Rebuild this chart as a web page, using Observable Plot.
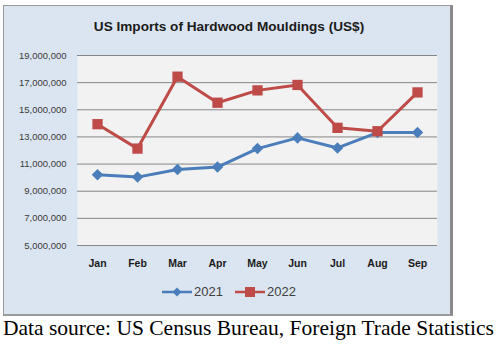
<!DOCTYPE html>
<html>
<head>
<meta charset="utf-8">
<script src="https://cdn.jsdelivr.net/npm/d3@7"></script>
<script src="https://cdn.jsdelivr.net/npm/@observablehq/plot@0.6"></script>
<style>
  html, body { margin: 0; padding: 0; background: #fff; }
  body { width: 503px; height: 354px; position: relative; overflow: hidden; }
  #box { position: absolute; left: 3px; top: 5px; width: 446px; height: 308px;
         background: #dbe5f1; border: 1px solid #9a9a9a; border-right: 3px solid #8a8a8a; border-bottom: 2px solid #9a9a9a; }
  #title { position: absolute; left: 0; top: 13px; width: 450px; text-align: center;
           font: bold 13.6px "Liberation Sans", Arial, sans-serif; color: #1a1a1a; }
  #chart { position: absolute; left: 0; top: 39px; }
  #legend { position: absolute; left: 0; top: 278px; width: 450px; text-align: center;
            font: 13px "Liberation Sans", Arial, sans-serif; color: #404040; }
  #legend span.item { display: inline-flex; align-items: center; margin: 0 6px; }
  #caption { position: absolute; left: 3px; top: 316px; white-space: nowrap;
             font: 21.5px "Liberation Serif", "Times New Roman", serif; color: #000; }
</style>
</head>
<body>
<div id="box">
  <div id="title">US Imports of Hardwood Mouldings (US$)</div>
  <div id="chart"></div>
  <div id="legend"></div>
</div>
<div id="caption">Data source: US Census Bureau, Foreign Trade Statistics</div>
<script>
const months = ["Jan","Feb","Mar","Apr","May","Jun","Jul","Aug","Sep"];
const values2021 = [10210000,10040000,10600000,10780000,12140000,12930000,12190000,13320000,13320000];
const values2022 = [13940000,12140000,17440000,15520000,16430000,16830000,13670000,13420000,16280000];
const yTicks = [5000000,7000000,9000000,11000000,13000000,15000000,17000000,19000000];
const seriesNames = ["2021","2022"];
const colors = ["#4a7ebb","#be4b48"];

const rows2021 = months.map((m,i)=>({month:m, value:values2021[i], series:"2021"}));
const rows2022 = months.map((m,i)=>({month:m, value:values2022[i], series:"2022"}));

const chart = Plot.plot({
  width: 446,
  height: 232,
  marginLeft: 73,
  marginRight: 13,
  marginTop: 10,
  marginBottom: 32,
  style: {background: "transparent", overflow: "visible"},
  x: {type: "band", domain: months, padding: 0},
  y: {domain: [5000000, 19000000]},
  marks: [
    Plot.frame({fill: "#f2f2f2", stroke: null}),
    Plot.ruleY(yTicks, {stroke: "#868686", strokeWidth: 1}),
    Plot.axisY({ticks: yTicks, tickSize: 0, tickPadding: 11, tickFormat: d3.format(","),
                fontSize: 9.5, fill: "#3a3a3a", label: null,
                fontFamily: "Liberation Sans, Arial, sans-serif"}),
    Plot.axisX({tickSize: 0, tickPadding: 14, fontSize: 10.5, fontWeight: "bold", fill: "#1a1a1a",
                label: null, fontFamily: "Liberation Sans, Arial, sans-serif"}),
    Plot.line(rows2021, {x: "month", y: "value", stroke: colors[0], strokeWidth: 3}),
    Plot.dot(rows2021, {x: "month", y: "value", fill: colors[0], symbol: "diamond2", r: 5.2, stroke: "none"}),
    Plot.line(rows2022, {x: "month", y: "value", stroke: colors[1], strokeWidth: 3}),
    Plot.dot(rows2022, {x: "month", y: "value", fill: colors[1], symbol: "square", r: 5.8, stroke: "none"})
  ]
});
document.getElementById("chart").appendChild(chart);

const legend = document.getElementById("legend");
seriesNames.forEach((s,i)=>{
  const item = document.createElement("span");
  item.className = "item";
  const sym = i === 0
    ? `<path d="M15,1.5 L19.5,6 L15,10.5 L10.5,6 Z" fill="${colors[i]}"/>`
    : `<rect x="10" y="1" width="10" height="10" fill="${colors[i]}"/>`;
  item.innerHTML = `<svg width="30" height="12" style="margin-right:2px"><line x1="0" x2="30" y1="6" y2="6" stroke="${colors[i]}" stroke-width="2.5"/>${sym}</svg>${s}`;
  legend.appendChild(item);
});
</script>
</body>
</html>
